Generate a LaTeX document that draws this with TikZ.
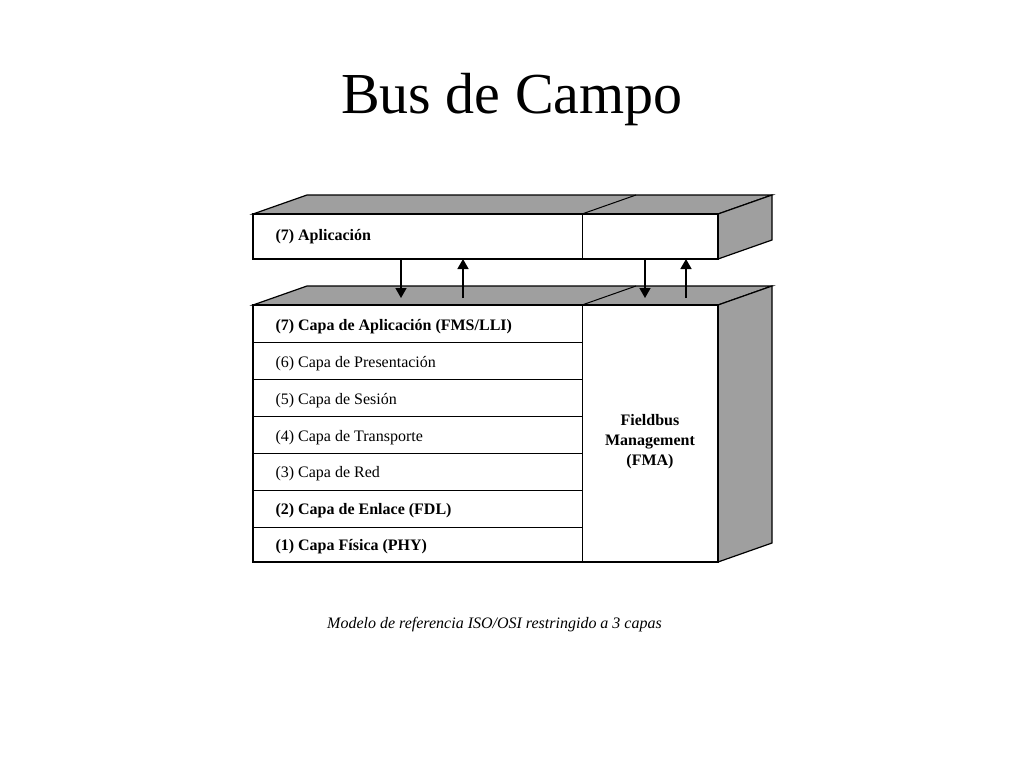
\documentclass[tikz,border=0pt]{standalone}
\usepackage{fontspec}
\setmainfont{Liberation Serif}
\usetikzlibrary{arrows.meta}
\tikzset{
  face/.style={draw,line width=1.2pt,fill=gray!75},
  front/.style={draw,line width=1.6pt,fill=white},
  layer/.style={anchor=west,font=\fontsize{16}{18}\selectfont},
  updown/.style={line width=1.5pt,-{Triangle[width=11pt,length=10pt]}}
}
\begin{document}
\begin{tikzpicture}[x=1pt,y=-1pt]
			\useasboundingbox (0,0) rectangle (1024,768);
			\node (title) at (512,100) {\fontsize{58}{62}\selectfont Bus de Campo};
			% upper block
			\draw[face] (253,214) -- (307,195) -- (772,195) -- (718,214) -- cycle;
			\draw[face] (718,214) -- (772,195) -- (772,240) -- (718,259) -- cycle;
			\draw[line width=1pt] (582,214) -- (636,195);
			\draw[front] (253,214) rectangle (718,259);
			\draw[line width=0.8pt] (582,214) -- (582,259);
			\node[layer,font=\fontsize{16}{18}\selectfont\bfseries] (apl) at (272,237) {(7) Aplicación};
			% lower block
			\draw[face] (253,305) -- (307,286) -- (772,286) -- (718,305) -- cycle;
			\draw[face] (718,305) -- (772,286) -- (772,543) -- (718,562) -- cycle;
			\draw[line width=1pt] (582,305) -- (636,286);
			\draw[front] (253,305) rectangle (718,562);
			\draw[line width=0.8pt] (582,305) -- (582,562);
			\foreach \y in {342,379,416,453,490,527}
				\draw[line width=0.8pt] (253,\y) -- (582,\y);
			\node[layer,font=\fontsize{16}{18}\selectfont\bfseries] (l7) at (272,327) {(7) Capa de Aplicación (FMS/LLI)};
			\node[layer] (l6) at (272,364) {(6) Capa de Presentación};
			\node[layer] (l5) at (272,401) {(5) Capa de Sesión};
			\node[layer] (l4) at (272,438) {(4) Capa de Transporte};
			\node[layer] (l3) at (272,474) {(3) Capa de Red};
			\node[layer,font=\fontsize{16}{18}\selectfont\bfseries] (l2) at (272,511) {(2) Capa de Enlace (FDL)};
			\node[layer,font=\fontsize{16}{18}\selectfont\bfseries] (l1) at (272,547) {(1) Capa Física (PHY)};
			\node[align=center,font=\fontsize{16}{20}\selectfont\bfseries] (fma) at (650,442) {Fieldbus\\Management\\(FMA)};
			% arrows between blocks
			\draw[updown] (401,259) -- (401,298);
			\draw[updown] (463,298) -- (463,259);
			\draw[updown] (645,259) -- (645,298);
			\draw[updown] (686,298) -- (686,259);
			\node[anchor=north west,text width=413pt,align=justify,inner sep=0pt,
				font=\fontsize{16}{23}\selectfont\itshape] (cap) at (327,617)
				{Modelo de referencia ISO/OSI restringido a 3 capas};
		\end{tikzpicture}
\end{document}
